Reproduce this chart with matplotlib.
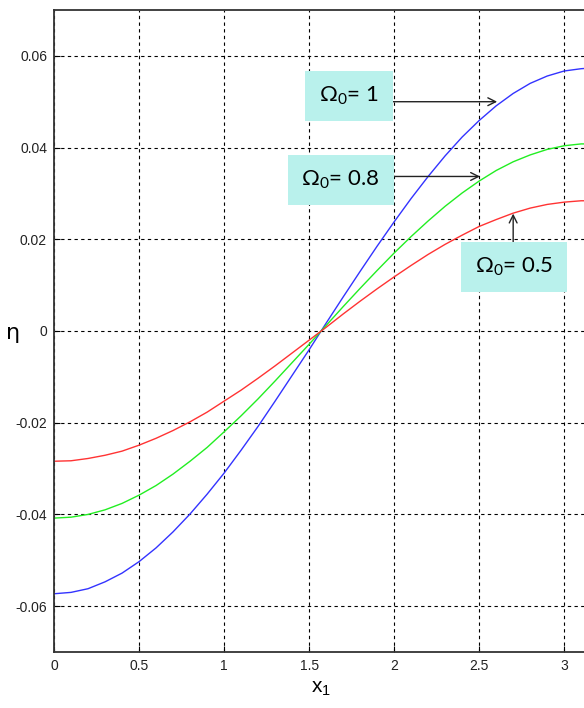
import numpy as np
import matplotlib.pyplot as plt

# values
x1 = [0, 0.1, 0.2, 0.3, 0.4, 0.5, 0.6, 0.7, 0.8, 0.9, 1.0, 1.1, 1.2, 1.3, 1.4, 1.5,
      1.6, 1.7, 1.8, 1.9, 2.0, 2.1, 2.2, 2.3, 2.4, 2.5, 2.6, 2.7, 2.8, 2.9, 3.0, 3.1, 3.14]

eta_omega_1 = [-0.0573, -0.0570, -0.0562, -0.0547, -0.0528, -0.0503, -0.0473, -0.0438,
               -0.0399, -0.0356, -0.0310, -0.0260, -0.0208, -0.0153, -0.0097, -0.0041,
               0.0017, 0.0074, 0.0130, 0.0185, 0.0238, 0.0289, 0.0337, 0.0382,
               0.0423, 0.0459, 0.0491, 0.0518, 0.0540, 0.0556, 0.0567, 0.0572, 0.0573]

eta_omega_08 = [-0.0408, -0.0406, -0.0400, -0.0390, -0.0376, -0.0358, -0.0337, -0.0312,
                -0.0284, -0.0254, -0.0220, -0.0185, -0.0148, -0.0109, -0.0069, -0.0029,
                0.0012, 0.0053, 0.0093, 0.0132, 0.0170, 0.0206, 0.0240, 0.0272,
                0.0301, 0.0327, 0.0350, 0.0369, 0.0384, 0.0396, 0.0404, 0.0408, 0.0408]

eta_omega_05 = [-0.0284, -0.0283, -0.0278, -0.0271, -0.0262, -0.0249, -0.0234, -0.0217,
                -0.0198, -0.0177, -0.0153, -0.0129, -0.0103, -0.0076, -0.0048, -0.0020,
                0.0008, 0.0037, 0.0065, 0.0092, 0.0118, 0.0143, 0.0167, 0.0189,
                0.0209, 0.0228, 0.0243, 0.0257, 0.0268, 0.0276, 0.0281, 0.0284, 0.0284]

x_ticks = [0, 0.5, 1, 1.5, 2, 2.5, 3]
x_tick_labels = ['0', '0.5', '1', '1.5', '2', '2.5', '3']
y_ticks = [-0.06, -0.04, -0.02, 0, 0.02, 0.04, 0.06]
y_tick_labels = ['-0.06', '-0.04', '-0.02', '0', '0.02', '0.04', '0.06']

labels = [r'$\mathregular{\Omega_0}$= 1', r'$\mathregular{\Omega_0}$= 0.8',
          r'$\mathregular{\Omega_0}$= 0.5']

fig = plt.figure(figsize=(5.84, 7.08), dpi=100)
ax = fig.add_axes([54/584, 56/708, 534/584, 642/708])

ax.plot(x1, eta_omega_1, color='#3333ff', lw=1.0)
ax.plot(x1, eta_omega_08, color='#22ee22', lw=1.0)
ax.plot(x1, eta_omega_05, color='#ff3333', lw=1.0)

ax.set_xlim(0, 3.14)
ax.set_ylim(-0.07, 0.07)
ax.set_xticks(x_ticks)
ax.set_xticklabels(x_tick_labels)
ax.set_yticks(y_ticks)
ax.set_yticklabels(y_tick_labels)
ax.tick_params(direction='in', length=4, width=0.8, pad=5, labelsize=10)
for lab in ax.get_xticklabels() + ax.get_yticklabels():
    lab.set_family('Liberation Sans')
    lab.set_color('#222222')

ax.grid(True, color='black', linestyle=(0, (3, 3)), linewidth=0.8)
for s in ax.spines.values():
    s.set_linewidth(1.3)
    s.set_color('#333333')

ax.set_xlabel(r'x$\mathregular{_1}$', fontsize=15, family='Liberation Sans', labelpad=4)
fig.text(13/584, 1 - 333/708, 'η', fontsize=16, family='DejaVu Sans',
         ha='center', va='center')

box = dict(boxstyle='square,pad=0.62', fc='#b9f1ec', ec='none')
arrow = dict(arrowstyle='->', color='#222222', lw=1.0, mutation_scale=14, shrinkA=0, shrinkB=0)

ax.annotate('', xy=(2.606, 0.0500), xytext=(1.99, 0.0500), arrowprops=arrow)
ax.annotate('', xy=(2.505, 0.0337), xytext=(1.99, 0.0337), arrowprops=arrow)
ax.annotate('', xy=(2.70, 0.0256), xytext=(2.70, 0.0194), arrowprops=arrow)

ax.text(1.735, 0.0513, labels[0], fontsize=16, family='Lato',
        ha='center', va='center', bbox=box)
ax.text(1.685, 0.0330, labels[1], fontsize=16, family='Lato',
        ha='center', va='center', bbox=box)
ax.text(2.706, 0.0139, labels[2], fontsize=16, family='Lato',
        ha='center', va='center', bbox=box)

fig.savefig('out.png', dpi=100)
